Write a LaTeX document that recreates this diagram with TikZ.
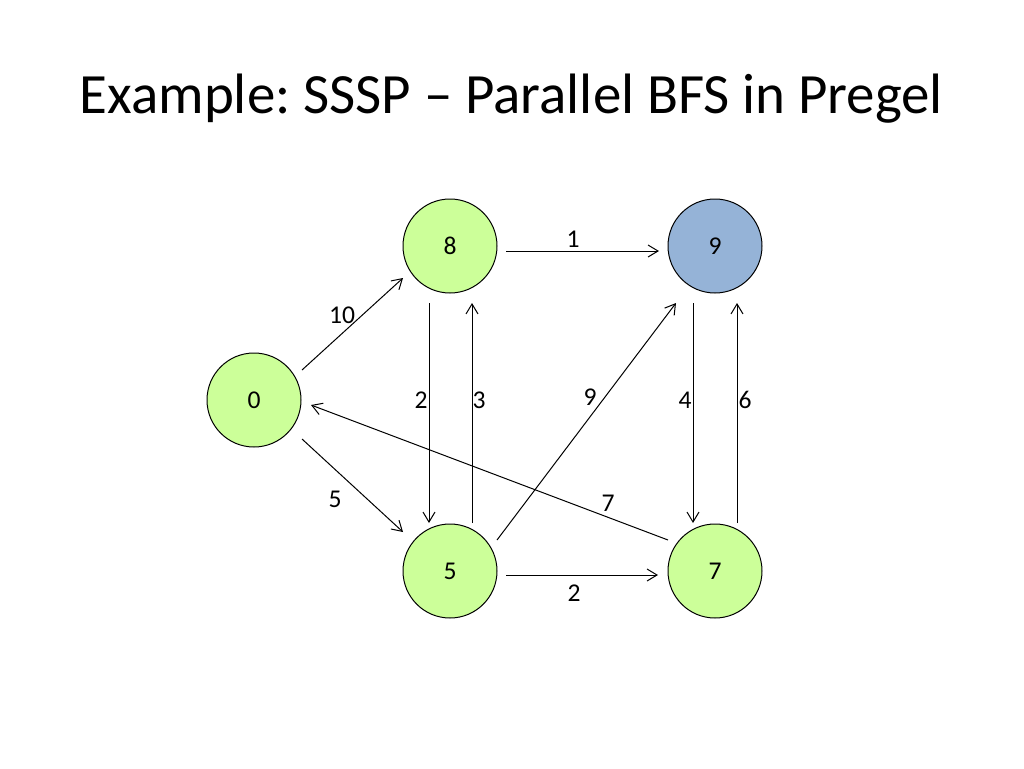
\documentclass[tikz,border=0pt]{standalone}
\usepackage{fontspec}
\setmainfont{Carlito}
\usetikzlibrary{arrows.meta,calc}
\frenchspacing

\definecolor{vgreen}{RGB}{204,255,153}
\definecolor{vblue}{RGB}{149,179,215}

\begin{document}
\begin{tikzpicture}[x=0.75pt,y=0.75pt,yscale=-1,xscale=1,
  vtx/.style={circle,draw=black,line width=0.75pt,minimum size=70.5pt,inner sep=0pt,fill=vgreen,font=\fontsize{19.2}{23}\selectfont},
  edge/.style={line width=0.75pt,-{Straight Barb[length=7.5pt,width=9pt]}},
  lbl/.style={inner sep=0pt,font=\fontsize{19.2}{23}\selectfont}]
\useasboundingbox (0,0) rectangle (1024,768);

% Title
\node (title) [anchor=base,inner sep=0pt,font=\fontsize{42.7}{50}\selectfont] at (511.5,113) {Example: SSSP – Parallel BFS in Pregel};

% Vertices
\node (n0) [vtx] at (254,400) {0};
\node (n8) [vtx] at (450,246) {8};
\node (n9) [vtx,fill=vblue] at (715,246) {9};
\node (n5) [vtx] at (450,571) {5};
\node (n7) [vtx] at (715,571) {7};

% Edges
\draw [edge] ($(n0)+(48,-30)$) -- ($(n8)+(-47,32)$);
\draw [edge] ($(n0)+(48,39)$) -- ($(n5)+(-47,-39)$);
\draw [edge] ($(n8)+(56,5)$) -- ($(n9)+(-56,5)$);
\draw [edge] ($(n8)+(-21,57)$) -- ($(n5)+(-21,-48)$);
\draw [edge] ($(n5)+(22,-48)$) -- ($(n8)+(22,57)$);
\draw [edge] ($(n5)+(47,-31)$) -- ($(n9)+(-39,57)$);
\draw [edge] ($(n9)+(-22,57)$) -- ($(n7)+(-22,-48)$);
\draw [edge] ($(n7)+(22,-48)$) -- ($(n9)+(22,57)$);
\draw [edge] ($(n7)+(-47,-31)$) -- ($(n0)+(57,5)$);
\draw [edge] ($(n5)+(56,4)$) -- ($(n7)+(-57,4)$);

% Weights
\node (w89) [lbl] at (573,239) {1};
\node (w08) [lbl] at (342,315) {10};
\node (w85) [lbl] at (421,400) {2};
\node (w58) [lbl] at (479,400) {3};
\node (w59) [lbl] at (590,397) {9};
\node (w97) [lbl] at (685,400) {4};
\node (w79) [lbl] at (745,400) {6};
\node (w05) [lbl] at (335,499) {5};
\node (w70) [lbl] at (608,503) {7};
\node (w57) [lbl] at (574,593) {2};

\end{tikzpicture}
\end{document}
